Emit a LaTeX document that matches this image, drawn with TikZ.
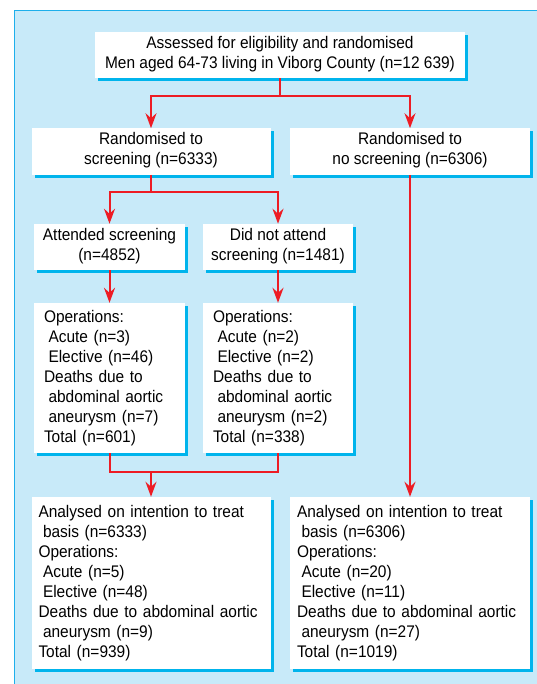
\documentclass[tikz,border=0pt]{standalone}
\usepackage{fontspec}
\setmainfont[FakeStretch=0.92]{Liberation Sans}
\usetikzlibrary{arrows.meta,shadows}
\definecolor{panel}{RGB}{200,234,249}
\definecolor{shadowc}{RGB}{0,180,236}
\definecolor{edgec}{RGB}{30,175,235}
\definecolor{arrowred}{RGB}{237,28,36}
\newcommand{\ind}{\hspace*{4.5pt}}
\begin{document}
\begin{tikzpicture}[x=1pt,y=-1pt,
  box/.style={draw=none, fill=white,
    general shadow={fill=shadowc, shadow xshift=3pt, shadow yshift=-3pt},
    font=\fontsize{16.8}{20}\selectfont,
    execute at begin node=\strut, execute at end node=\strut,
    inner ysep=4pt},
  cbox/.style={box, align=center, inner xsep=0pt},
  conn/.style={draw=arrowred, line width=2pt},
  arr/.style={conn, -{Stealth[length=15pt,width=11pt,inset=5pt]}}]
\useasboundingbox (0,0) rectangle (537,684);
\fill[panel] (14.4,10.7) rectangle (537,684);
\draw[edgec, line width=0.8pt] (14.4,10.7) -- (537,10.7);
\draw[edgec, line width=1.5pt] (14.4,684) -- (14.4,10.7);

\node[cbox, minimum width=370pt] (top) at (280,55)
  {Assessed for eligibility and randomised\\Men aged 64-73 living in Viborg County (n=12 639)};
\node[cbox, minimum width=239pt] (l1) at (151,151.5) {Randomised to\\screening (n=6333)};
\node[cbox, minimum width=240pt] (r1) at (410,151.5) {Randomised to\\no screening (n=6306)};
\node[cbox, minimum width=151pt] (att) at (109.5,247) {Attended screening\\(n=4852)};
\node[cbox, minimum width=150pt] (dna) at (278,247) {Did not attend\\screening (n=1481)};
\node[box, align=left, inner xsep=10pt, inner ysep=5pt, text width=131pt] (oa) at (109.5,378)
  {Operations:\\\ind Acute (n=3)\\\ind Elective (n=46)\\Deaths due to\\\ind abdominal aortic\\\ind aneurysm (n=7)\\Total (n=601)};
\node[box, align=left, inner xsep=10pt, inner ysep=5pt, text width=130pt] (od) at (278,378)
  {Operations:\\\ind Acute (n=2)\\\ind Elective (n=2)\\Deaths due to\\\ind abdominal aortic\\\ind aneurysm (n=2)\\Total (n=338)};
\node[box, align=left, inner xsep=7pt, inner ysep=6pt, text width=225pt] (bl) at (151,583)
  {Analysed on intention to treat\\\ind basis (n=6333)\\Operations:\\\ind Acute (n=5)\\\ind Elective (n=48)\\Deaths due to abdominal aortic\\\ind aneurysm (n=9)\\Total (n=939)};
\node[box, align=left, inner xsep=7pt, inner ysep=6pt, text width=226pt] (br) at (410,583)
  {Analysed on intention to treat\\\ind basis (n=6306)\\Operations:\\\ind Acute (n=20)\\\ind Elective (n=11)\\Deaths due to abdominal aortic\\\ind aneurysm (n=27)\\Total (n=1019)};

\coordinate (j1) at (280,96);
\coordinate (j2) at (151,192);
\coordinate (j3) at (151,472);
\draw[conn] (top.south) -- (j1);
\draw[arr] (j1) -| (l1.north);
\draw[arr] (j1) -| (r1.north);
\draw[conn] (l1.south) -- (j2);
\draw[arr] (j2) -| (att.north);
\draw[arr] (j2) -| (dna.north);
\draw[arr] (att.south) -- (oa.north);
\draw[arr] (dna.south) -- (od.north);
\draw[conn] (oa.south) |- (j3) -| (od.south);
\draw[arr] (j3) -- (bl.north);
\draw[arr] (r1.south) -- (br.north);
\end{tikzpicture}
\end{document}
